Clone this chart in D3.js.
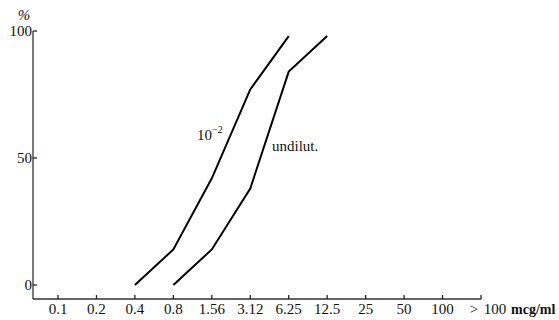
<html>
<head>
<script src="https://d3js.org/d3.v7.min.js"></script>
<style>
    html, body { margin: 0; padding: 0; background: #fff; }
</style>
</head>
<body>
<script>
    var width = 559, height = 320;
    var font = "'Liberation Serif', 'DejaVu Serif', serif";

    // concentration categories (x axis)
    var concs = ["0.1", "0.2", "0.4", "0.8", "1.56", "3.12", "6.25", "12.5", "25", "50", "100", ">100"];
    var yTicks = [0, 50, 100];

    // % values
    var dilConcs = ["0.4", "0.8", "1.56", "3.12", "6.25"];
    var dilValues = [0, 14, 42, 77, 98];
    var undilConcs = ["0.8", "1.56", "3.12", "6.25", "12.5"];
    var undilValues = [0, 14, 38, 84, 98];

    var svg = d3.select("body").append("svg")
        .attr("width", width)
        .attr("height", height)
        .attr("font-family", font)
        .attr("fill", "#111");

    var x = d3.scalePoint().domain(concs).range([58, 481]);
    var y = d3.scaleLinear().domain([0, 100]).range([285, 31]);

    // y axis
    svg.append("line")
        .attr("x1", 33).attr("x2", 33)
        .attr("y1", y(100)).attr("y2", 299)
        .attr("stroke", "#333").attr("stroke-width", 1.3);
    var yg = svg.append("g").attr("transform", "translate(33,0)");
    yTicks.forEach(function (t) {
        yg.append("line")
            .attr("x1", 0).attr("x2", 4)
            .attr("y1", y(t)).attr("y2", y(t))
            .attr("stroke", "#222").attr("stroke-width", 1.3);
        yg.append("text")
            .attr("x", -1).attr("y", y(t))
            .attr("dy", "0.35em")
            .attr("text-anchor", "end")
            .attr("font-size", 15)
            .text(t);
    });
    svg.append("text")
        .attr("x", 24).attr("y", 20)
        .attr("text-anchor", "middle")
        .attr("font-size", 15)
        .attr("font-style", "italic")
        .text("%");

    // x axis
    svg.append("line")
        .attr("x1", 33).attr("x2", x(">100"))
        .attr("y1", 299).attr("y2", 299)
        .attr("stroke", "#333").attr("stroke-width", 1.3);
    concs.forEach(function (c) {
        svg.append("line")
            .attr("x1", x(c)).attr("x2", x(c))
            .attr("y1", 299).attr("y2", 295)
            .attr("stroke", "#222").attr("stroke-width", 1.3);
        svg.append("text")
            .attr("x", x(c) + (c == ">100" ? 7 : 0))
            .attr("y", 314)
            .attr("text-anchor", "middle")
            .attr("font-size", 15)
            .attr("word-spacing", "2px")
            .text(c == ">100" ? "> 100" : c);
    });
    svg.append("text")
        .attr("x", 511).attr("y", 314)
        .attr("font-size", 14)
        .attr("font-weight", "bold")
        .text("mcg/ml");

    var line = d3.line()
        .x(function (d) { return x(d[0]); })
        .y(function (d) { return y(d[1]); });

    svg.append("path")
        .datum(d3.zip(dilConcs, dilValues))
        .attr("d", line)
        .attr("fill", "none")
        .attr("stroke", "#000")
        .attr("stroke-width", 2);

    svg.append("path")
        .datum(d3.zip(undilConcs, undilValues))
        .attr("d", line)
        .attr("fill", "none")
        .attr("stroke", "#000")
        .attr("stroke-width", 2);

    // series labels
    var lab = svg.append("text")
        .attr("x", 197).attr("y", 140)
        .attr("font-size", 15);
    lab.append("tspan").text("10");
    lab.append("tspan")
        .attr("dy", -7)
        .attr("font-size", 10)
        .text("\u22122");

    svg.append("text")
        .attr("x", 272).attr("y", 151)
        .attr("font-size", 15)
        .text("undilut.");
</script>
</body>
</html>
